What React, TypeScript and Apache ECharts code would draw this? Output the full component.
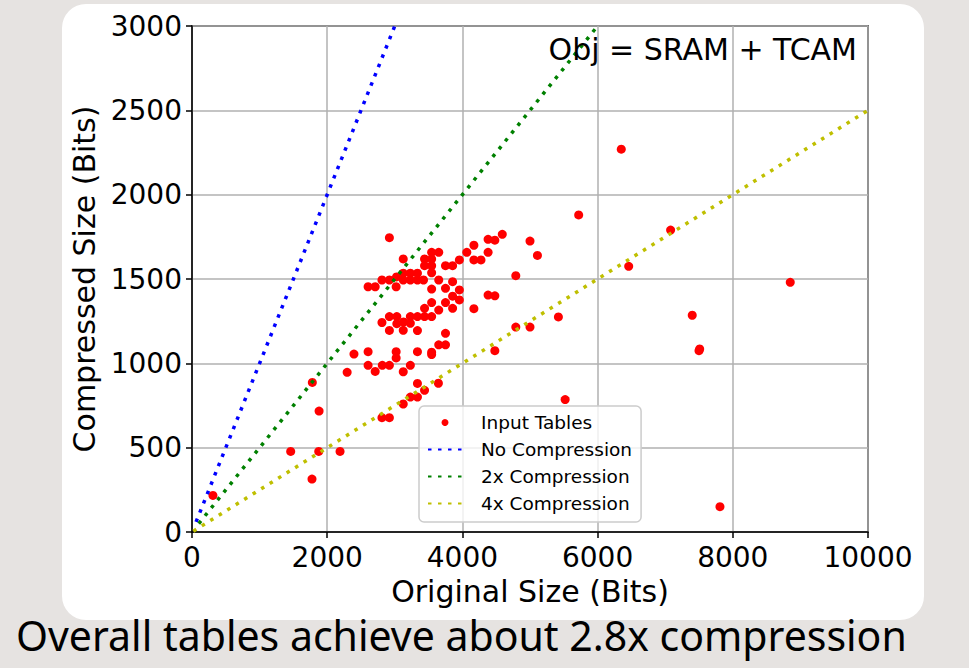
import React, { useEffect, useRef } from "react";
import * as echarts from "echarts";

// Input tables: original size (bits) vs compressed size (bits)
const originalSize = [
  310, 1460, 1775, 1875, 2190, 1880, 1780, 2810, 2920, 3125,
  3230, 3335, 3440, 3335, 3645, 2295, 2710, 3125, 2605, 2815,
  2920, 3230, 2396, 2605, 3020, 3020, 3335, 3545, 3545, 3650,
  3750, 3750, 2810, 2920, 2920, 3030, 3030, 3125, 3130, 3230,
  3230, 3335, 3440, 3545, 3335, 3440, 3545, 3650, 3750, 3855,
  3855, 3955, 3545, 3750, 3955, 3650, 3855, 2605, 2710, 3020,
  2810, 2920, 3025, 3125, 3125, 3230, 3230, 3335, 3335, 3425,
  3545, 3440, 3545, 3750, 3855, 3125, 3440, 3545, 3545, 3650,
  3955, 4065, 4170, 4170, 4275, 4380, 4380, 4480, 4590, 2920,
  4790, 5000, 5110, 5720, 6350, 7080, 6460, 8850, 4380, 4480,
  4170, 7400, 7500, 7510, 5420, 4790, 5000, 4480, 5520, 7810,
];
const compressedSize = [
  217, 478, 314, 478, 478, 717, 887, 678, 678, 759,
  800, 800, 840, 881, 882, 947, 952, 950, 988, 988,
  988, 988, 1055, 1069, 1069, 1032, 1069, 1066, 1052, 1110,
  1110, 1178, 1242, 1195, 1277, 1277, 1235, 1196, 1245, 1237,
  1277, 1277, 1277, 1277, 1194, 1326, 1360, 1316, 1360, 1326,
  1398, 1376, 1440, 1445, 1435, 1494, 1484, 1454, 1454, 1454,
  1494, 1494, 1512, 1494, 1534, 1534, 1494, 1534, 1494, 1494,
  1537, 1579, 1579, 1579, 1579, 1619, 1619, 1619, 1658, 1658,
  1613, 1658, 1700, 1613, 1613, 1658, 1735, 1730, 1765, 1745,
  1520, 1725, 1640, 1880, 2270, 1790, 1575, 1480, 1405, 1400,
  1324, 1285, 1075, 1085, 1275, 1215, 1215, 1075, 785, 150,
];

// Reference lines (end points)
const noCompressionX = [60, 3000];
const noCompressionY = [60, 3000];
const twoXX = [100, 6000];
const twoXY = [50, 3000];
const fourXX = [20, 10000];
const fourXY = [5, 2500];

const seriesNames = ["Input Tables", "No Compression", "2x Compression", "4x Compression"];
const xAxisName = "Original Size (Bits)";
const yAxisName = "Compressed Size (Bits)";
const annotation = "Obj = SRAM + TCAM";
const footerText = "Overall tables achieve about 2.8x compression";

const zip = (a: number[], b: number[]) => a.map((v, i) => [v, b[i]]);

export default function App() {
  const ref = useRef<HTMLDivElement>(null);

  useEffect(() => {
    if (!ref.current) return;
    const chart = echarts.init(ref.current, undefined, { renderer: "svg" });
    const font = "DejaVu Sans";
    const dotted = (color: string) => ({
      color,
      width: 3.5,
      type: [3.5, 6.5] as any,
      cap: "butt" as const,
    });
    const plain = (v: number) => String(v);
    chart.setOption({
      animation: false,
      backgroundColor: "#e6e3e1",
      graphic: [
        {
          type: "rect",
          z: -100,
          shape: { x: 62, y: 4, width: 862, height: 616, r: 24 },
          style: { fill: "#ffffff" },
          silent: true,
        },
        {
          type: "text",
          x: 857,
          y: 49,
          z: 10,
          style: {
            text: annotation,
            font: `30px "${font}"`,
            fill: "#000",
            align: "right",
            verticalAlign: "middle",
          },
        },
        {
          type: "text",
          x: 16,
          y: 655,
          style: {
            text: footerText,
            font: `41px "Noto Sans"`,
            fill: "#000",
            align: "left",
            verticalAlign: "bottom",
          },
        },
      ],
      grid: {
        left: 192,
        top: 26,
        width: 676,
        height: 506,
        show: true,
        borderColor: "#000",
        borderWidth: 1.5,
        backgroundColor: "transparent",
      },
      legend: {
        orient: "vertical",
        left: 419,
        top: 406,
        itemWidth: 34,
        itemHeight: 7,
        itemGap: 8,
        padding: [7, 9, 9, 8],
        backgroundColor: "rgba(255,255,255,0.8)",
        borderColor: "#cccccc",
        borderWidth: 1.5,
        borderRadius: 5,
        selectedMode: false,
        data: [
          { name: seriesNames[0] },
          { name: seriesNames[1], itemStyle: { opacity: 0 } },
          { name: seriesNames[2], itemStyle: { opacity: 0 } },
          { name: seriesNames[3], itemStyle: { opacity: 0 } },
        ],
        textStyle: {
          fontSize: 18.5,
          fontFamily: font,
          color: "#000",
          padding: [0, 0, 0, 14],
        },
      },
      xAxis: {
        type: "value",
        min: 0,
        max: 10000,
        interval: 2000,
        name: xAxisName,
        nameLocation: "middle",
        nameGap: 44,
        nameTextStyle: { fontSize: 30, fontFamily: font, color: "#000" },
        axisLine: { show: true, onZero: false, lineStyle: { color: "#000", width: 1.5 } },
        axisTick: { show: true, inside: false, length: 6, lineStyle: { color: "#000", width: 1.5 } },
        axisLabel: { fontSize: 28, fontFamily: font, color: "#000", margin: 11, formatter: plain },
        splitLine: { show: true, lineStyle: { color: "#b0b0b0", width: 1.5 } },
      },
      yAxis: {
        type: "value",
        min: 0,
        max: 3000,
        interval: 500,
        name: yAxisName,
        nameLocation: "middle",
        nameGap: 86,
        nameRotate: 90,
        nameTextStyle: { fontSize: 30, fontFamily: font, color: "#000" },
        axisLine: { show: true, onZero: false, lineStyle: { color: "#000", width: 1.5 } },
        axisTick: { show: true, inside: false, length: 6, lineStyle: { color: "#000", width: 1.5 } },
        axisLabel: { fontSize: 28, fontFamily: font, color: "#000", margin: 10, formatter: plain },
        splitLine: { show: true, lineStyle: { color: "#b0b0b0", width: 1.5 } },
      },
      series: [
        {
          name: seriesNames[0],
          type: "scatter",
          symbol: "circle",
          symbolSize: 9,
          itemStyle: { color: "#ff0000", opacity: 1 },
          data: zip(originalSize, compressedSize),
        },
        {
          name: seriesNames[1],
          type: "line",
          symbol: "none",
          lineStyle: dotted("#0000ff"),
          itemStyle: { color: "#0000ff" },
          data: zip(noCompressionX, noCompressionY),
        },
        {
          name: seriesNames[2],
          type: "line",
          symbol: "none",
          lineStyle: dotted("#008000"),
          itemStyle: { color: "#008000" },
          data: zip(twoXX, twoXY),
        },
        {
          name: seriesNames[3],
          type: "line",
          symbol: "none",
          lineStyle: dotted("#bfbf00"),
          itemStyle: { color: "#bfbf00" },
          data: zip(fourXX, fourXY),
        },
      ],
    });
    return () => chart.dispose();
  }, []);

  return (
    <div
      style={{
        position: "absolute",
        left: 0,
        top: 0,
        width: 969,
        height: 668,
        overflow: "hidden",
        background: "#e6e3e1",
      }}
    >
      <div ref={ref} style={{ width: 969, height: 668 }} />
    </div>
  );
}
